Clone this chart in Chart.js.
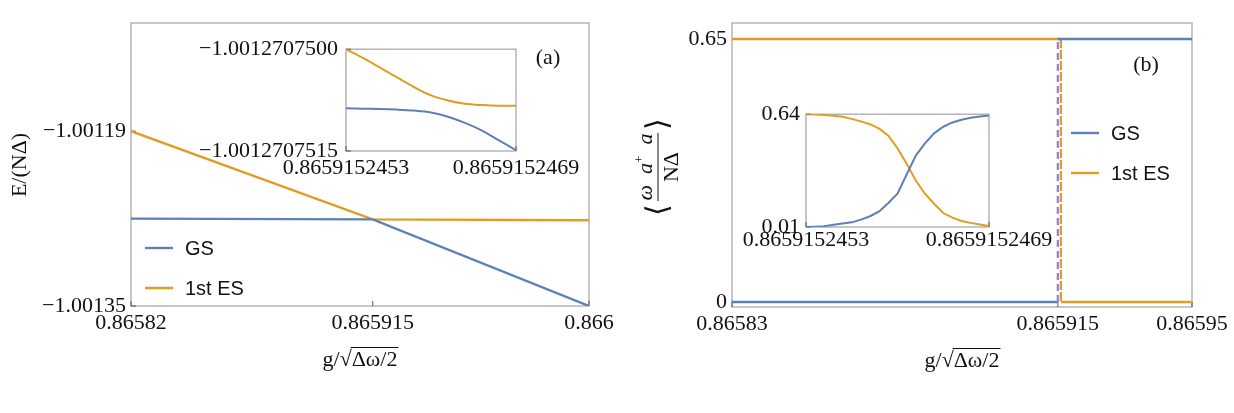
<!DOCTYPE html>
<html>
<head>
<meta charset="utf-8">
<script src="https://cdn.jsdelivr.net/npm/chart.js@4.4.1/dist/chart.umd.min.js"></script>
<style>
  html, body { margin: 0; padding: 0; background: #fff; }
  #wrap { position: relative; width: 1234px; height: 413px; overflow: hidden; }
  canvas { position: absolute; }
</style>
</head>
<body>
<div id="wrap">
  <canvas id="mainA"></canvas>
  <canvas id="mainB"></canvas>
  <canvas id="insetA"></canvas>
  <canvas id="insetB"></canvas>
</div>
<script>
// ---- panel (a): energies ----
const aX = [0.86582, 0.865915, 0.866];
const aGS = [-1.0012700, -1.00127075, -1.00135];
const aES = [-1.00119, -1.00127075, -1.0012715];
const aXTicks = [0.86582, 0.865915, 0.866];
const aYTicks = [-1.00135, -1.00119];

// inset of (a), zoom around the avoided crossing
const insetAX = [0.86591524530, 0.86591524546, 0.86591524562, 0.86591524578, 0.86591524594, 0.86591524610,
                 0.86591524626, 0.86591524642, 0.86591524658, 0.86591524674, 0.86591524690];
const insetAGS = [-1.001270750871, -1.001270750876, -1.001270750881, -1.001270750890, -1.001270750905, -1.001270750933,
                  -1.001270750995, -1.001270751086, -1.001270751200, -1.001270751343, -1.001270751490];
const insetAES = [-1.001270750000, -1.001270750129, -1.001270750271, -1.001270750414, -1.001270750557, -1.001270750681,
                  -1.001270750757, -1.001270750805, -1.001270750824, -1.001270750833, -1.001270750833];
const insetAXTicks = [0.8659152453, 0.8659152469];
const insetAYTicks = [-1.0012707515, -1.00127075];

// ---- panel (b): photon number ----
const bGSX = [0.86583, 0.865915, 0.865915, 0.8659160, 0.86595];
const bGSY = [0, 0, 0.65, 0.65, 0.65];
const bESX = [0.86583, 0.8659158, 0.8659158, 0.86595];
const bESY = [0.65, 0.65, 0, 0];
const bXTicks = [0.86583, 0.865915, 0.86595];
const bYTicks = [0, 0.65];

// inset of (b)
const insetBX = [0.865915245300, 0.865915245380, 0.865915245460, 0.865915245540, 0.865915245620, 0.865915245700,
                 0.865915245780, 0.865915245860, 0.865915245940, 0.865915246020, 0.865915246100, 0.865915246180,
                 0.865915246260, 0.865915246340, 0.865915246420, 0.865915246500, 0.865915246580, 0.865915246660,
                 0.865915246740, 0.865915246820, 0.865915246900];
const insetBGS = [0.010, 0.012, 0.014, 0.023, 0.029, 0.036, 0.051, 0.070, 0.097, 0.144, 0.196,
                  0.303, 0.409, 0.477, 0.533, 0.570, 0.594, 0.609, 0.620, 0.627, 0.633];
const insetBES = [0.640, 0.638, 0.636, 0.631, 0.626, 0.614, 0.600, 0.584, 0.559, 0.520, 0.450,
                  0.363, 0.270, 0.196, 0.140, 0.088, 0.062, 0.044, 0.033, 0.024, 0.016];
const insetBXTicks = [0.8659152453, 0.8659152469];
const insetBYTicks = [0.01, 0.64];

const BLUE = '#5e81b5', ORANGE = '#e19c24', PURPLE = '#9686d2';
const SERIF = "'Liberation Serif', 'Times New Roman', serif";
const SANS = "'Liberation Sans', Arial, sans-serif";

Chart.defaults.font.family = SERIF;
Chart.defaults.font.size = 22;
Chart.defaults.color = '#111';
Chart.defaults.animation = false;

const minus = s => s.replace('-', '\u2212');
const pts = (xs, ys) => xs.map((x, i) => ({ x: x, y: ys[i] }));

// put a canvas on the page and work out layout so the plot area lands on `area`
function frame(id, rect, area) {
    const c = document.getElementById(id);
    c.width = rect.w; c.height = rect.h;
    c.style.left = rect.x + 'px'; c.style.top = rect.y + 'px';
    return {
        el: c, x0: rect.x, y0: rect.y,
        padding: { top: area.t - rect.y, right: rect.x + rect.w - area.r, left: 0, bottom: 0 },
        yWidth: area.l - rect.x,
        xHeight: rect.y + rect.h - area.b
    };
}

function axis(f, kind, min, max, ticks, fmt, pad) {
    return {
        type: 'linear', min: min, max: max,
        border: { display: false },
        grid: { display: false, drawTicks: false },
        ticks: { padding: pad, autoSkip: false, maxRotation: 0, minRotation: 0,
                 callback: (v, i) => fmt(ticks[i]) },
        afterBuildTicks: s => { s.ticks = ticks.map(v => ({ value: v })); },
        afterFit: s => { if (kind === 'x') s.height = f.xHeight; else s.width = f.yWidth; }
    };
}

// grey frame around the plot plus short inward tick marks
const boxPlugin = {
    id: 'box',
    beforeDatasetsDraw(chart) {
        const { ctx, chartArea: a } = chart;
        ctx.save();
        ctx.strokeStyle = '#a9a9a9';
        ctx.lineWidth = 1.3;
        ctx.strokeRect(a.left, a.top, a.right - a.left, a.bottom - a.top);
        ctx.strokeStyle = '#555';
        ctx.lineWidth = 1;
        chart.scales.x.ticks.forEach(t => {
            const px = chart.scales.x.getPixelForValue(t.value);
            ctx.beginPath(); ctx.moveTo(px, a.bottom); ctx.lineTo(px, a.bottom - 5); ctx.stroke();
        });
        chart.scales.y.ticks.forEach(t => {
            const py = chart.scales.y.getPixelForValue(t.value);
            ctx.beginPath(); ctx.moveTo(a.left, py); ctx.lineTo(a.left + 5, py); ctx.stroke();
        });
        ctx.restore();
    }
};

function drawLegend(chart, f, x, y, gap) {
    const ctx = chart.ctx;
    ctx.save();
    chart.data.datasets.forEach((d, i) => {
        const yy = y - f.y0 + i * gap, xx = x - f.x0;
        ctx.strokeStyle = d.borderColor;
        ctx.lineWidth = 2.4;
        ctx.beginPath(); ctx.moveTo(xx, yy); ctx.lineTo(xx + 28, yy); ctx.stroke();
        ctx.fillStyle = '#111';
        ctx.font = '20px ' + SANS;
        ctx.textBaseline = 'middle';
        ctx.fillText(d.label, xx + 40, yy + 1);
    });
    ctx.restore();
}

function drawXTitle(ctx, cx, cy) {
    ctx.save();
    ctx.fillStyle = '#111';
    ctx.strokeStyle = '#111';
    ctx.font = '22px ' + SERIF;
    ctx.textBaseline = 'alphabetic';
    const a = 'g/', r = '\u221A', b = '\u0394\u03C9/2';
    const wa = ctx.measureText(a).width, wr = ctx.measureText(r).width, wb = ctx.measureText(b).width;
    let x = cx - (wa + wr + wb) / 2;
    ctx.fillText(a, x, cy); x += wa;
    ctx.fillText(r, x, cy); x += wr;
    ctx.fillText(b, x, cy);
    ctx.lineWidth = 1;
    ctx.beginPath(); ctx.moveTo(x - 1, cy - 18.5); ctx.lineTo(x + wb + 1, cy - 18.5); ctx.stroke();
    ctx.restore();
}

function drawText(ctx, txt, x, y, font, rot) {
    ctx.save();
    ctx.fillStyle = '#111';
    ctx.font = font;
    ctx.textAlign = 'center';
    ctx.textBaseline = 'middle';
    ctx.translate(x, y);
    if (rot) ctx.rotate(rot);
    ctx.fillText(txt, 0, 0);
    ctx.restore();
}

// <omega a+ a / N Delta>, rotated
function drawBYTitle(ctx, cx, cy) {
    ctx.save();
    ctx.translate(cx, cy);
    ctx.rotate(-Math.PI / 2);
    ctx.fillStyle = '#111';
    ctx.strokeStyle = '#111';
    ctx.textBaseline = 'alphabetic';
    ctx.lineWidth = 1;
    ctx.beginPath(); ctx.moveTo(-34, 1); ctx.lineTo(34, 1); ctx.stroke();
    // numerator
    const parts = [
        { t: '\u03C9', f: 'italic 22px ' + SERIF, dy: 0 },
        { t: '  a', f: 'italic 22px ' + SERIF, dy: 0 },
        { t: '+', f: '13px ' + SERIF, dy: -9 },
        { t: '  a', f: 'italic 22px ' + SERIF, dy: 0 }
    ];
    let w = 0;
    parts.forEach(p => { ctx.font = p.f; w += ctx.measureText(p.t).width; });
    let x = -w / 2;
    parts.forEach(p => { ctx.font = p.f; ctx.fillText(p.t, x, -5 + p.dy); x += ctx.measureText(p.t).width; });
    // denominator
    ctx.font = '22px ' + SERIF;
    ctx.textAlign = 'center';
    ctx.fillText('N\u0394', 0, 21);
    ctx.font = '30px ' + SERIF;
    ctx.textBaseline = 'middle';
    ctx.fillText('\u27E8', -43, 2);
    ctx.fillText('\u27E9', 43, 2);
    ctx.restore();
}

function lineSet(label, xs, ys, color, extra) {
    return Object.assign({
        label: label, data: pts(xs, ys), borderColor: color, backgroundColor: color,
        borderWidth: 2.3, pointRadius: 0, tension: 0, fill: false
    }, extra || {});
}

// ---------- (a) main ----------
const fA = frame('mainA', { x: 0, y: 0, w: 620, h: 413 }, { l: 131, t: 23, r: 589, b: 306 });
new Chart(fA.el, {
    type: 'line',
    data: { datasets: [
        lineSet('GS', aX, aGS, BLUE),
        lineSet('1st ES', aX, aES, ORANGE)
    ] },
    options: {
        responsive: false,
        layout: { padding: fA.padding },
        plugins: { legend: { display: false }, tooltip: { enabled: false } },
        scales: {
            x: axis(fA, 'x', 0.86582, 0.866, aXTicks, v => String(v), 4),
            y: axis(fA, 'y', -1.00135, -1.001091, aYTicks, v => minus(String(v)), 5)
        }
    },
    plugins: [boxPlugin, {
        id: 'decorA',
        afterDraw(chart) {
            const ctx = chart.ctx;
            drawXTitle(ctx, 360, 366);
            drawText(ctx, 'E/(N\u0394)', 20, 165, '22px ' + SERIF, -Math.PI / 2);
            drawText(ctx, '(a)', 548, 58, '22px ' + SERIF);
            drawLegend(chart, fA, 145, 248, 40);
        }
    }]
});

// ---------- (b) main ----------
const dashSeg = col => ({
    borderDash: c => c.p0.parsed.y !== c.p1.parsed.y ? [7, 4] : undefined,
    borderColor: c => c.p0.parsed.y !== c.p1.parsed.y ? col : undefined
});
const fB = frame('mainB', { x: 620, y: 0, w: 614, h: 413 }, { l: 732, t: 23, r: 1192, b: 307 });
new Chart(fB.el, {
    type: 'line',
    data: { datasets: [
        lineSet('GS', bGSX, bGSY, BLUE, { segment: dashSeg(PURPLE) }),
        lineSet('1st ES', bESX, bESY, ORANGE, { segment: dashSeg(ORANGE) })
    ] },
    options: {
        responsive: false,
        layout: { padding: fB.padding },
        plugins: { legend: { display: false }, tooltip: { enabled: false } },
        scales: {
            x: axis(fB, 'x', 0.86583, 0.86595, bXTicks, v => String(v), 4),
            y: axis(fB, 'y', -0.0124, 0.6895, bYTicks, v => String(v), 5)
        }
    },
    plugins: [boxPlugin, {
        id: 'decorB',
        afterDraw(chart) {
            const ctx = chart.ctx;
            drawXTitle(ctx, 962 - 620, 367);
            drawBYTitle(ctx, 657 - 620, 167);
            drawText(ctx, '(b)', 1146 - 620, 65, '22px ' + SERIF);
            drawLegend(chart, fB, 1071, 133, 40);
        }
    }]
});

// ---------- insets ----------
const fIA = frame('insetA', { x: 180, y: 28, w: 430, h: 170 }, { l: 346, t: 46, r: 516, b: 151 });
new Chart(fIA.el, {
    type: 'line',
    data: { datasets: [
        lineSet('GS', insetAX, insetAGS, BLUE, { cubicInterpolationMode: 'monotone', borderWidth: 2 }),
        lineSet('1st ES', insetAX, insetAES, ORANGE, { cubicInterpolationMode: 'monotone', borderWidth: 2 })
    ] },
    options: {
        responsive: false,
        layout: { padding: fIA.padding },
        plugins: { legend: { display: false }, tooltip: { enabled: false } },
        scales: {
            x: axis(fIA, 'x', 0.8659152453, 0.8659152469, insetAXTicks, v => v.toFixed(10), 4),
            y: axis(fIA, 'y', -1.0012707515, -1.00127075, insetAYTicks, v => minus(v.toFixed(10)), 8)
        }
    },
    plugins: [boxPlugin]
});

const fIB = frame('insetB', { x: 690, y: 95, w: 400, h: 170 }, { l: 806, t: 113, r: 989, b: 227 });
new Chart(fIB.el, {
    type: 'line',
    data: { datasets: [
        lineSet('GS', insetBX, insetBGS, BLUE, { borderWidth: 2 }),
        lineSet('1st ES', insetBX, insetBES, ORANGE, { borderWidth: 2 })
    ] },
    options: {
        responsive: false,
        layout: { padding: fIB.padding },
        plugins: { legend: { display: false }, tooltip: { enabled: false } },
        scales: {
            x: axis(fIB, 'x', 0.8659152453, 0.8659152469, insetBXTicks, v => v.toFixed(10), 0),
            y: axis(fIB, 'y', 0.01, 0.64, insetBYTicks, v => v.toFixed(2), 6)
        }
    },
    plugins: [boxPlugin]
});
</script>
</body>
</html>
